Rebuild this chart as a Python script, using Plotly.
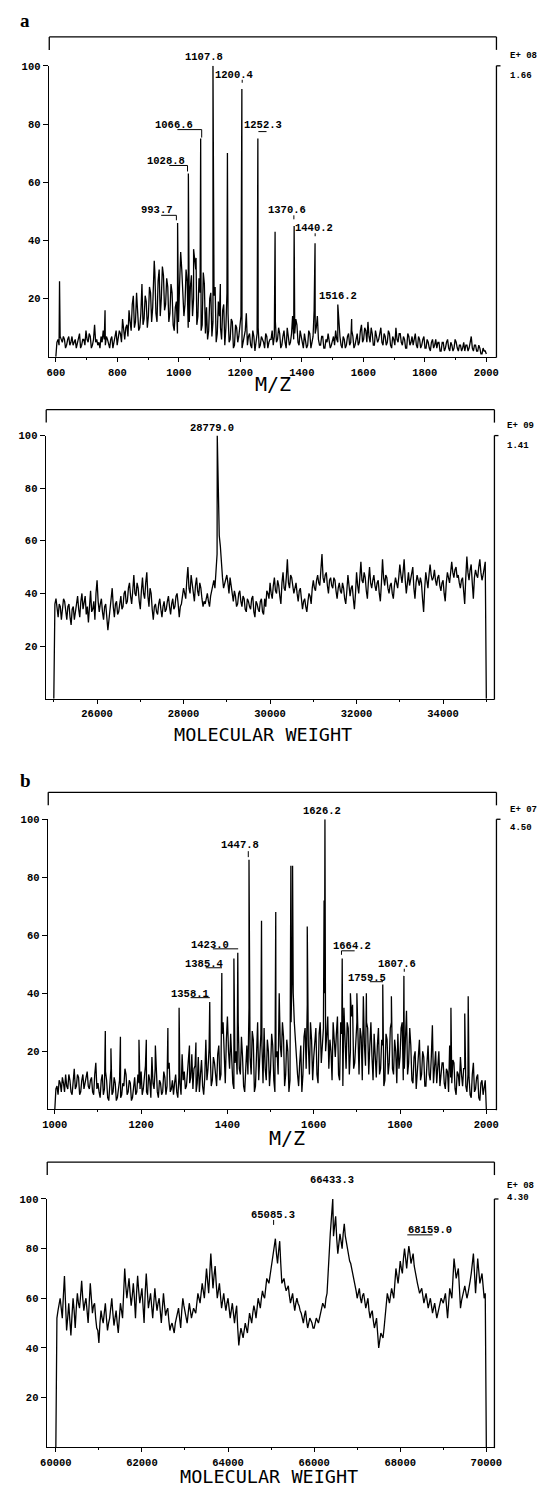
import plotly.graph_objects as go

# page is offset by the browser's default 8px body margin
OFF = 8
W, H = 545 - OFF, 1489 - OFF
XF = 1.042  # horizontal calibration of the pixel estimates below

# ---------------- Panel a (top): M/Z spectrum 600-2000 ----------------
A_START, A_STEP = 600, 7
A_BASE = [
    0, 6, 7, 5, 6, 4, 7, 5, 4, 6,
    5, 8, 4, 6, 9, 5, 7, 4, 11, 6,
    5, 7, 9, 4, 6, 3, 7, 5, 9, 6,
    8, 13, 6, 11, 16, 9, 21, 12, 17, 10,
    25, 13, 19, 14, 22, 17, 29, 12, 30, 20,
    28, 18, 24, 15, 22, 9, 19, 12, 36, 22,
    18, 26, 12, 28, 20, 30, 14, 22, 11, 25,
    17, 9, 22, 12, 24, 8, 14, 6, 18, 10,
    15, 6, 12, 4, 10, 7, 14, 5, 9, 4,
    8, 3, 7, 5, 10, 4, 6, 3, 7, 5,
    6, 4, 12, 6, 8, 4, 9, 3, 7, 5,
    14, 8, 11, 4, 7, 3, 6, 4, 8, 5,
    16, 10, 6, 4, 7, 3, 5, 6, 4, 7,
    9, 5, 7, 3, 6, 4, 8, 5, 7, 4,
    8, 5, 11, 6, 9, 12, 5, 8, 4, 7,
    6, 10, 4, 7, 5, 8, 3, 6, 10, 5,
    8, 4, 6, 3, 7, 5, 4, 8, 3, 6,
    4, 7, 3, 5, 2, 6, 4, 3, 5, 2,
    5, 3, 6, 2, 4, 3, 5, 2, 4, 3,
    2, 4, 3, 7, 2, 4, 2, 3, 1, 2,
    1,
]
A_MID = [
    5, 4, 6, 7, 3, 6, 4, 7, 5, 3,
    7, 3, 6, 4, 6, 8, 3, 6, 5, 4,
    3, 5, 6, 7, 4, 6, 3, 7, 4, 9,
    5, 9, 10, 7, 12, 18, 10, 22, 9, 15,
    11, 21, 10, 24, 12, 27, 15, 26, 14, 31,
    16, 27, 12, 25, 11, 17, 8, 25, 30, 14,
    30, 10, 24, 14, 33, 11, 27, 9, 29, 8,
    6, 20, 7, 21, 5, 19, 10, 16, 4, 22,
    5, 13, 3, 11, 5, 12, 3, 8, 15, 7,
    4, 9, 2, 8, 3, 7, 5, 8, 3, 6,
    9, 7, 5, 10, 3, 7, 5, 10, 4, 8,
    6, 13, 5, 9, 4, 8, 3, 9, 3, 7,
    8, 14, 4, 7, 3, 6, 8, 3, 6, 4,
    6, 10, 4, 7, 3, 7, 4, 9, 3, 6,
    4, 9, 5, 10, 5, 7, 10, 4, 9, 5,
    9, 5, 8, 4, 9, 4, 7, 4, 6, 8,
    5, 7, 3, 8, 4, 7, 6, 4, 7, 3,
    6, 3, 6, 3, 5, 3, 6, 5, 2, 5,
    2, 5, 3, 5, 2, 6, 3, 4, 2, 5,
    4, 2, 5, 3, 4, 2, 4, 1, 3, 2,
]
A_PEAK_X = [612, 760, 920, 996, 1031, 1048, 1056, 1071, 1111, 1135, 1158,
            1205, 1257, 1313, 1375, 1443, 1517, 1562]
A_PEAK_Y = [26, 16, 33, 46, 63, 37, 34, 75, 100, 25, 70,
            92, 75, 43, 45, 39, 18, 13]
A_TICKS = [600, 800, 1000, 1200, 1400, 1600, 1800, 2000]

# ---------------- Panel a (bottom): molecular weight 25000-35000 ----------------
M1_START, M1_STEP = 25000, 50
M1_BASE = [
    0, 38, 31, 35, 33, 37, 30, 36, 28, 35,
    33, 39, 31, 40, 36, 32, 29, 41, 34, 30,
    45, 33, 38, 30, 36, 26, 34, 42, 31, 37,
    33, 39, 35, 41, 37, 44, 36, 47, 39, 42,
    34, 46, 38, 48, 35, 40, 30, 36, 32, 38,
    31, 37, 34, 39, 32, 38, 35, 40, 31, 36,
    42, 38, 50, 40, 44, 37, 46, 39, 42, 35,
    36, 40, 35, 41, 45, 50, 75, 58, 46, 44,
    47, 40, 43, 37, 39, 36, 41, 35, 38, 33,
    37, 34, 39, 31, 36, 33, 38, 32, 35, 40,
    44, 38, 46, 40, 43, 36, 48, 41, 53, 42,
    46, 40, 44, 37, 42, 34, 38, 33, 40, 36,
    45, 41, 47, 43, 55, 44, 48, 40, 46, 42,
    45, 38, 44, 40, 42, 36, 47, 39, 43, 34,
    48, 40, 52, 44, 46, 38, 50, 42, 47, 41,
    45, 37, 53, 43, 46, 40, 44, 38, 46, 42,
    51, 44, 53, 40, 48, 46, 50, 38, 47, 43,
    44, 33, 48, 42, 51, 45, 49, 43, 47, 41,
    45, 37, 48, 44, 52, 46, 50, 47, 42, 46,
    36, 54, 45, 51, 38, 49, 46, 53, 45, 49,
    0,
]
M1_MID = [
    36, 33, 36, 30, 38, 32, 35, 31, 34, 30,
    36, 34, 37, 34, 39, 35, 38, 33, 37, 40,
    37, 36, 33, 35, 31, 30, 38, 35, 36, 32,
    36, 34, 40, 36, 42, 39, 41, 40, 44, 37,
    41, 40, 44, 39, 42, 34, 35, 33, 36, 34,
    35, 33, 37, 35, 36, 34, 39, 36, 35, 39,
    40, 45, 42, 47, 39, 43, 41, 44, 38, 37,
    38, 37, 39, 43, 42, 55, 62, 50, 42, 45,
    44, 46, 39, 41, 35, 40, 37, 39, 34, 38,
    35, 38, 33, 37, 34, 37, 33, 38, 41, 38,
    40, 43, 41, 45, 39, 44, 42, 46, 44, 47,
    43, 42, 40, 41, 38, 37, 35, 37, 39, 42,
    42, 45, 44, 49, 46, 47, 43, 45, 43, 46,
    41, 42, 41, 44, 38, 41, 43, 42, 38, 40,
    43, 46, 45, 48, 41, 45, 44, 45, 43, 44,
    40, 44, 46, 47, 42, 43, 40, 43, 44, 46,
    47, 48, 45, 44, 43, 49, 42, 44, 45, 46,
    38, 42, 45, 47, 47, 46, 45, 46, 43, 44,
    40, 44, 46, 48, 48, 49, 46, 44, 45, 41,
    46, 48, 49, 44, 46, 47, 50, 48, 47, 52,
]
M1_PEAK_X = [28779, 28790]
M1_PEAK_Y = [100, 90]
M1_TICKS = [26000, 28000, 30000, 32000, 34000]

# ---------------- Panel b (top): M/Z spectrum 1000-2000 ----------------
B_START, B_STEP = 1000, 5
B_BASE = [
    0, 8, 10, 6, 9, 12, 7, 10, 5, 14,
    8, 11, 6, 12, 9, 13, 7, 11, 5, 16,
    9, 4, 12, 7, 10, 3, 14, 6, 9, 4,
    10, 5, 8, 12, 6, 9, 4, 11, 6, 9,
    13, 7, 15, 5, 10, 18, 7, 12, 4, 9,
    6, 11, 8, 16, 7, 5, 12, 4, 9, 19,
    13, 8, 18, 11, 7, 15, 9, 6, 17, 5,
    24, 14, 20, 10, 16, 8, 22, 12, 30, 9,
    32, 14, 18, 7, 20, 30, 12, 18, 6, 22,
    35, 12, 24, 8, 30, 16, 22, 28, 10, 20,
    14, 22, 6, 20, 40, 18, 25, 12, 20, 10,
    48, 30, 18, 8, 22, 12, 28, 36, 12, 24,
    18, 28, 9, 30, 22, 40, 25, 14, 20, 30,
    18, 32, 10, 26, 35, 14, 28, 20, 36, 16,
    30, 12, 25, 38, 15, 28, 22, 18, 26, 11,
    28, 14, 22, 10, 24, 16, 30, 12, 20, 26,
    18, 30, 14, 34, 16, 22, 9, 20, 13, 24,
    12, 18, 8, 22, 10, 25, 14, 9, 20, 11,
    16, 7, 13, 22, 9, 16, 5, 12, 18, 8,
    14, 6, 11, 4, 16, 7, 12, 3, 10, 7,
    0,
]
B_MID = [
    7, 5, 9, 11, 6, 8, 12, 6, 11, 7,
    12, 5, 10, 7, 12, 8, 10, 6, 12, 7,
    6, 10, 5, 13, 4, 9, 5, 11, 3, 8,
    4, 9, 14, 5, 10, 3, 8, 5, 12, 7,
    5, 11, 6, 12, 4, 9, 14, 6, 10, 5,
    13, 5, 14, 6, 10, 9, 6, 11, 5, 10,
    7, 15, 9, 19, 14, 6, 18, 12, 8, 11,
    10, 21, 8, 18, 12, 19, 10, 26, 15, 24,
    20, 26, 9, 16, 12, 14, 25, 8, 15, 12,
    18, 27, 6, 19, 10, 26, 9, 14, 24, 8,
    26, 10, 18, 12, 22, 30, 8, 24, 6, 30,
    40, 22, 12, 16, 6, 25, 14, 22, 30, 10,
    24, 12, 26, 16, 28, 20, 32, 24, 10, 22,
    26, 12, 30, 8, 22, 30, 12, 32, 14, 24,
    20, 28, 10, 22, 30, 12, 30, 10, 18, 22,
    12, 24, 8, 26, 12, 28, 14, 24, 9, 14,
    28, 10, 24, 12, 28, 10, 18, 7, 22, 10,
    20, 8, 16, 12, 18, 9, 20, 16, 8, 16,
    9, 14, 6, 11, 17, 7, 13, 8, 12, 14,
    8, 12, 5, 12, 6, 11, 4, 9, 5, 10,
]
B_PEAK_X = [1117, 1130, 1152, 1195, 1212, 1233, 1262, 1288, 1312, 1327,
            1359, 1387, 1415, 1424, 1450, 1479, 1512, 1547, 1551, 1585,
            1624, 1626, 1666, 1685, 1700, 1715, 1722, 1760, 1780, 1809,
            1875, 1918, 1950, 1958]
B_PEAK_Y = [27, 21, 25, 24, 24, 22, 28, 35, 22, 23,
            37, 47, 52, 54, 86, 65, 68, 84, 84, 63,
            72, 100, 52, 40, 40, 39, 40, 43, 39, 46,
            29, 35, 33, 39]
B_TICKS = [1000, 1200, 1400, 1600, 1800, 2000]

# ---------------- Panel b (bottom): molecular weight 60000-70000 ----------------
M2_START, M2_STEP = 60000, 50
M2_BASE = [
    0, 55, 60, 52, 69, 47, 58, 45, 60, 48,
    62, 56, 67, 55, 60, 50, 66, 54, 58, 48,
    42, 55, 50, 58, 47, 52, 60, 49, 55, 46,
    58, 52, 72, 60, 68, 57, 66, 52, 69, 58,
    64, 50, 70, 56, 62, 52, 64, 55, 60, 50,
    62, 53, 56, 47, 50, 46, 52, 56, 48, 60,
    55, 50, 58, 52, 56, 54, 62, 58, 66, 60,
    72, 62, 78, 64, 73, 60, 66, 56, 62, 55,
    60, 52, 58, 50, 57, 41, 48, 44, 50, 46,
    54, 50, 57, 52, 60, 56, 63, 60, 68, 66,
    72, 76, 84, 74, 83, 66, 68, 63, 65, 58,
    62, 55, 60, 57, 54, 50, 55, 48, 52, 50,
    48, 52, 50, 54, 58, 56, 62, 80, 92, 85,
    93, 78, 86, 80, 90, 82, 76, 74, 70, 66,
    60, 64, 58, 62, 56, 60, 52, 55, 48, 52,
    40, 46, 44, 52, 62, 58, 64, 60, 72, 66,
    75, 70, 80, 72, 81, 74, 78, 70, 66, 62,
    64, 58, 62, 56, 60, 54, 58, 52, 56, 60,
    58, 62, 52, 64, 60, 76, 68, 72, 56, 62,
    65, 60, 64, 70, 78, 62, 76, 66, 70, 60,
    0,
]
M2_MID = [
    52, 57, 56, 61, 58, 52, 51, 53, 55, 56,
    58, 61, 60, 58, 55, 58, 60, 57, 52, 47,
    50, 52, 54, 52, 50, 56, 54, 52, 50, 52,
    55, 62, 65, 64, 62, 61, 60, 62, 63, 61,
    57, 62, 63, 59, 57, 58, 59, 58, 55, 56,
    57, 55, 51, 49, 48, 50, 54, 52, 55, 57,
    53, 54, 55, 54, 55, 58, 60, 62, 63, 66,
    67, 70, 71, 69, 66, 63, 61, 59, 58, 58,
    56, 55, 54, 54, 48, 45, 46, 47, 48, 50,
    52, 54, 55, 56, 58, 60, 61, 64, 67, 69,
    74, 80, 78, 79, 74, 67, 65, 64, 61, 60,
    58, 58, 58, 55, 52, 53, 51, 50, 51, 48,
    50, 51, 52, 56, 57, 60, 70, 86, 96, 89,
    84, 82, 83, 86, 85, 79, 75, 72, 68, 63,
    62, 60, 61, 59, 58, 55, 54, 51, 50, 46,
    43, 45, 48, 57, 60, 61, 62, 66, 69, 70,
    72, 76, 76, 77, 78, 76, 73, 68, 64, 63,
    61, 60, 59, 58, 57, 56, 55, 54, 58, 59,
    60, 57, 58, 62, 68, 72, 70, 64, 59, 63,
    62, 62, 67, 74, 70, 69, 71, 68, 65, 62,
]
M2_PEAK_X = [66433]
M2_PEAK_Y = [100]
M2_TICKS = [60000, 62000, 64000, 66000, 68000, 70000]

Y_TICKS = [20, 40, 60, 80, 100]


def merge(start, step, base, mid, pkx, pky):
    xs = [start + step * i for i in range(len(base))]
    xm = [start + step * (i + 0.5) for i in range(len(mid))]
    pts = sorted(list(zip(xs, base)) + list(zip(xm, mid)) + list(zip(pkx, pky)))
    return [p[0] for p in pts], [p[1] for p in pts]


def PX(x):
    return (x * XF - OFF) / W


def PY(y):
    return 1 - (y - OFF) / H


MONO = "Liberation Mono"
tickfont = dict(family=MONO, size=10.5, color="black", weight="bold")
scalefont = dict(family=MONO, size=9, color="black", weight="bold")
labfont = dict(family=MONO, size=10.5, color="black", weight="bold")

# layout geometry in (estimated) page pixels
panels = [
    dict(data=(A_START, A_STEP, A_BASE, A_MID, A_PEAK_X, A_PEAK_Y), ticks=A_TICKS,
         lx=41, rx=483, a0=(600, 48), a1=(2000, 473), ytop=61, ybot=353,
         brk=32, scale=("E+ 08", "1.66"), sc_x=494, sc_y=(51, 71)),
    dict(data=(M1_START, M1_STEP, M1_BASE, M1_MID, M1_PEAK_X, M1_PEAK_Y), ticks=M1_TICKS,
         lx=38, rx=481, a0=(25000, 46), a1=(35000, 473), ytop=432, ybot=696,
         brk=406, scale=("E+ 09", "1.41"), sc_x=491, sc_y=(422, 442)),
    dict(data=(B_START, B_STEP, B_BASE, B_MID, B_PEAK_X, B_PEAK_Y), ticks=B_TICKS,
         lx=40, rx=483, a0=(1000, 47), a1=(2000, 473), ytop=817, ybot=1108,
         brk=790, scale=("E+ 07", "4.50"), sc_x=494, sc_y=(808, 826)),
    dict(data=(M2_START, M2_STEP, M2_BASE, M2_MID, M2_PEAK_X, M2_PEAK_Y), ticks=M2_TICKS,
         lx=39, rx=481, a0=(60000, 48), a1=(70000, 473), ytop=1198, ybot=1447,
         brk=1161, scale=("E+ 08", "4.30"), sc_x=491, sc_y=(1185, 1197)),
]

fig = go.Figure()
shapes = []
annotations = []

for i, p in enumerate(panels):
    n = "" if i == 0 else str(i + 1)
    xs, ys = merge(*p["data"])
    fig.add_trace(go.Scatter(x=xs, y=ys, mode="lines",
                             line=dict(color="black", width=1.3),
                             xaxis="x" + n, yaxis="y" + n, showlegend=False,
                             hoverinfo="skip"))
    (v0, p0), (v1, p1) = p["a0"], p["a1"]
    slope = (v1 - v0) / (p1 - p0)
    xmin = v0 - (p0 - p["lx"]) * slope
    xmax = v1 + (p["rx"] - p1) * slope
    fig.update_layout(**{
        "xaxis" + n: dict(domain=[PX(p["lx"]), PX(p["rx"])], range=[xmin, xmax],
                          anchor="y" + n, showline=True, linecolor="black",
                          linewidth=1.3, ticks="outside", ticklen=4, tickwidth=1.3,
                          tickcolor="black", tickvals=p["ticks"], tickformat="d",
                          tickfont=tickfont, showgrid=False, zeroline=False,
                          ticklabelstandoff=1,
                          minor=dict(ticks="outside", ticklen=2,
                                     dtick=(p["ticks"][1] - p["ticks"][0]) / 2,
                                     tickcolor="black")),
        "yaxis" + n: dict(domain=[PY(p["ybot"]), PY(p["ytop"])], range=[0, 100],
                          anchor="x" + n, showline=True, linecolor="black",
                          linewidth=1.3, ticks="outside", ticklen=5, tickwidth=1,
                          tickcolor="black", tickvals=Y_TICKS, tickfont=tickfont,
                          showgrid=False, zeroline=False),
    })
    # top bracket and right frame line
    bl, br, bt = p["lx"] + 0.5, p["rx"], p["brk"]
    for (x0, y0, x1, y1) in [(bl, bt, br, bt), (bl, bt, bl, bt + 13), (br, bt, br, bt + 13),
                             (p["rx"], p["ytop"], p["rx"], p["ybot"] + 1),
                             (p["rx"], p["ytop"], p["rx"] + 4, p["ytop"])]:
        shapes.append(dict(type="line", xref="paper", yref="paper",
                           x0=PX(x0), y0=PY(y0), x1=PX(x1), y1=PY(y1),
                           line=dict(color="black", width=1.3)))
    for txt, yy in zip(p["scale"], p["sc_y"]):
        annotations.append(dict(text=txt, x=PX(p["sc_x"]), y=PY(yy), xref="paper",
                                yref="paper", xanchor="left", yanchor="middle",
                                showarrow=False, font=scalefont))

# axis titles
titles = [("M/Z", 262, 380, 20, "middle"), ("MOLECULAR WEIGHT", 253, 732, 18.5, "middle"),
          ("M/Z", 276, 1137, 20, "middle"), ("MOLECULAR WEIGHT", 258, 1489, 18.5, "bottom")]
for txt, x, y, s, ya in titles:
    annotations.append(dict(text=txt, x=PX(x), y=PY(y), xref="paper", yref="paper",
                            xanchor="center", yanchor=ya, showarrow=False,
                            font=dict(family="DejaVu Sans Mono", size=s, color="black")))

# panel letters
for txt, x, y in [("a", 18, 16), ("b", 18, 778)]:
    annotations.append(dict(text=txt, x=PX(x), y=PY(y), xref="paper", yref="paper",
                            xanchor="center", yanchor="middle", showarrow=False,
                            font=dict(family="Liberation Serif", size=19, color="black",
                                      weight="bold")))

# peak labels (text, centre x, centre y)
peak_labels = [
    ("1107.8", 194, 52), ("1200.4", 224, 70), ("1066.6", 165, 120), ("1252.3", 253, 120),
    ("1028.8", 157, 157), ("993.7", 148, 206), ("1370.6", 276, 206), ("1440.2", 303, 224),
    ("1516.2", 327, 292),
    ("28779.0", 202, 424),
    ("1626.2", 311, 809), ("1447.8", 230, 843), ("1423.0", 200, 943), ("1385.4", 194, 962),
    ("1358.1", 180, 992), ("1664.2", 340, 944), ("1807.6", 385, 962), ("1759.5", 355, 976),
    ("66433.3", 321, 1179), ("65085.3", 262, 1214), ("68159.0", 417, 1229),
]
for txt, x, y in peak_labels:
    annotations.append(dict(text=txt, x=PX(x), y=PY(y), xref="paper", yref="paper",
                            xanchor="center", yanchor="middle", showarrow=False,
                            font=labfont))

# label leader brackets (x0, y0, x1, y1)
leaders = [
    (168, 125, 192, 125), (192, 125, 192, 133),
    (248, 127, 256, 127),
    (160, 161, 178, 161), (178, 161, 178, 167),
    (152, 211, 167, 211), (167, 211, 167, 216),
    (283, 211, 283, 215), (304, 229, 304, 232), (232, 75, 232, 78),
    (238, 849, 238, 855),
    (203, 947, 228, 947), (196, 966, 212, 966), (181, 996, 200, 996),
    (330, 949, 343, 949), (330, 949, 330, 953), (392, 967, 392, 970),
    (358, 980, 371, 980),
    (263, 1219, 263, 1224), (395, 1234, 420, 1234),
]
for x0, y0, x1, y1 in leaders:
    shapes.append(dict(type="line", xref="paper", yref="paper",
                       x0=PX(x0), y0=PY(y0), x1=PX(x1), y1=PY(y1),
                       line=dict(color="black", width=1)))

fig.update_layout(width=W, height=H, margin=dict(l=0, r=0, t=0, b=0),
                  paper_bgcolor="white", plot_bgcolor="white",
                  shapes=shapes, annotations=annotations)

fig.write_html("out.html")
